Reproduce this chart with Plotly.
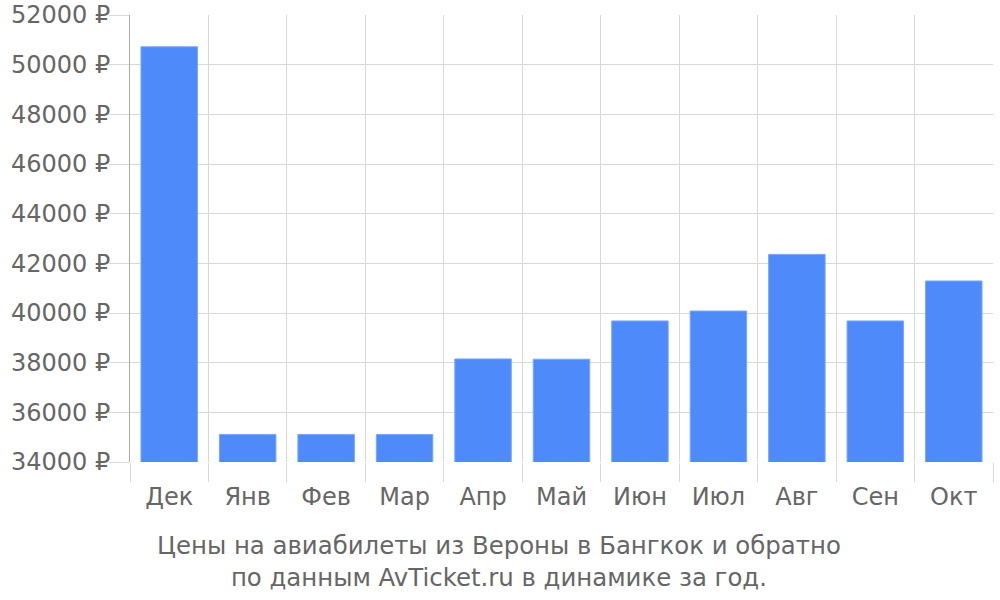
import plotly.graph_objects as go

# Monthly ticket prices, rubles
months = ["Дек", "Янв", "Фев", "Мар", "Апр", "Май", "Июн", "Июл", "Авг", "Сен", "Окт"]
prices = [50720, 35110, 35110, 35110, 38150, 38140, 39680, 40080, 42360, 39680, 41290]

y_ticks = list(range(34000, 52001, 2000))
y_labels = [f"{v} ₽" for v in y_ticks]

title = ("Цены на авиабилеты из Вероны в Бангкок и обратно<br>"
         "по данным AvTicket.ru в динамике за год.")

fig = go.Figure(go.Bar(
    x=months,
    y=prices,
    marker=dict(color="#4e8af9", line=dict(color="#7aa7fb", width=1)),
    width=0.72,
))

fig.update_layout(
    width=1000,
    height=600,
    margin=dict(l=130, r=7, t=15, b=138),
    paper_bgcolor="white",
    plot_bgcolor="white",
    font=dict(family="DejaVu Sans", size=24, color="#666666"),
    showlegend=False,
    annotations=[dict(
        text=title,
        xref="paper", yref="paper",
        x=0.4276, y=-0.2226,
        xanchor="center", yanchor="middle",
        showarrow=False,
        font=dict(size=24.4, color="#666666"),
    )],
)

fig.update_xaxes(
    automargin=False,
    tickson="boundaries",
    showgrid=True, gridcolor="#d9d9d9", gridwidth=1,
    ticks="outside", ticklen=19, tickcolor="#d9d9d9",
    ticklabelstandoff=18,
    showline=False,
    zeroline=False,
)

fig.update_yaxes(
    automargin=False,
    range=[34000, 52000],
    tickvals=y_ticks, ticktext=y_labels,
    showgrid=True, gridcolor="#d9d9d9", gridwidth=1,
    ticks="outside", ticklen=20, tickcolor="#d9d9d9",
    ticklabelstandoff=-6,
    ticklabeloverflow="allow",
    showline=True, linecolor="#aaaaaa", linewidth=1,
    zeroline=False,
)

# drop the default 8px body margin so the figure sits at the window corner
fig.write_html(
    "out.html",
    config={"displayModeBar": False},
    post_script="document.body.style.margin = '0';",
)
